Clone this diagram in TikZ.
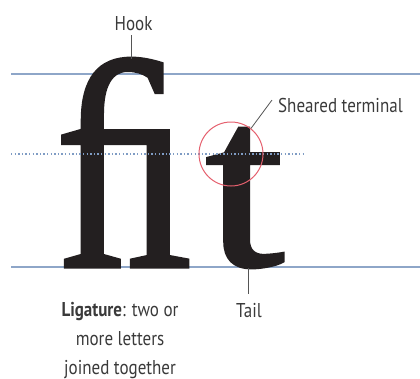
\documentclass[tikz,border=0pt]{standalone}
\usepackage{fontspec}
\usepackage{graphicx}
\setmainfont{Liberation Serif}
\newfontfamily\labelfont[FakeStretch=0.85]{PT Sans}
\newfontfamily\glyphfont[FakeBold=1.3]{Liberation Serif}
\definecolor{guideblue}{HTML}{8EA6C8}
\definecolor{dotblue}{HTML}{7F9CC4}
\definecolor{ink}{HTML}{231F20}
\definecolor{ringred}{HTML}{E5606E}
\definecolor{leadergray}{HTML}{555555}
\definecolor{labelink}{HTML}{3A3A3A}
\tikzset{
  guide/.style={draw=guideblue, line width=1.2pt},
  dotguide/.style={draw=dotblue, line width=1.4pt, dash pattern=on 1.4pt off 2.2pt},
  leader/.style={draw=leadergray, line width=0.8pt},
  lbl/.style={font=\labelfont\fontsize{20}{24}\selectfont, text=labelink, inner sep=0pt},
  glyph/.style={inner sep=0pt, text=ink},
}
\begin{document}
\begin{tikzpicture}[x=1pt,y=-1pt]
\useasboundingbox (0,0) rectangle (420,378);
\draw[guide] (11,74) -- (420,74);
\draw[guide] (11,267) -- (420,267);
\node[glyph, anchor=south west] (fi) at (55,267) {\resizebox{137pt}{208pt}{\glyphfont ﬁ}};
\node[glyph, anchor=south west] (t) at (205,268) {\resizebox{79pt}{137pt}{\glyphfont t}};
\draw[dotguide] (11,154) -- (305,154);
\node[circle, draw=ringred, line width=1pt, minimum size=64pt, inner sep=0pt] (ring) at (231,154) {};
\node[lbl, anchor=base] (hook) at (133.5,30) {Hook};
\coordinate (hooktip) at (131.5,59);
\draw[leader] (131.5,35) -- (hooktip);
\node[lbl, anchor=base west] (shear) at (278,112) {Sheared terminal};
\coordinate (shearA) at (272,100);
\draw[leader] (shearA) -- (ring.52);
\node[lbl, anchor=base] (tail) at (249,317) {Tail};
\coordinate (tailtip) at (248,268);
\draw[leader] (tailtip) -- (248,294);
\node[lbl, anchor=base, align=center, font=\labelfont\fontsize{20}{29}\selectfont] (lig) at (120,374)
  {\textbf{Ligature}: two or\\more letters\\joined together};
\end{tikzpicture}
\end{document}
